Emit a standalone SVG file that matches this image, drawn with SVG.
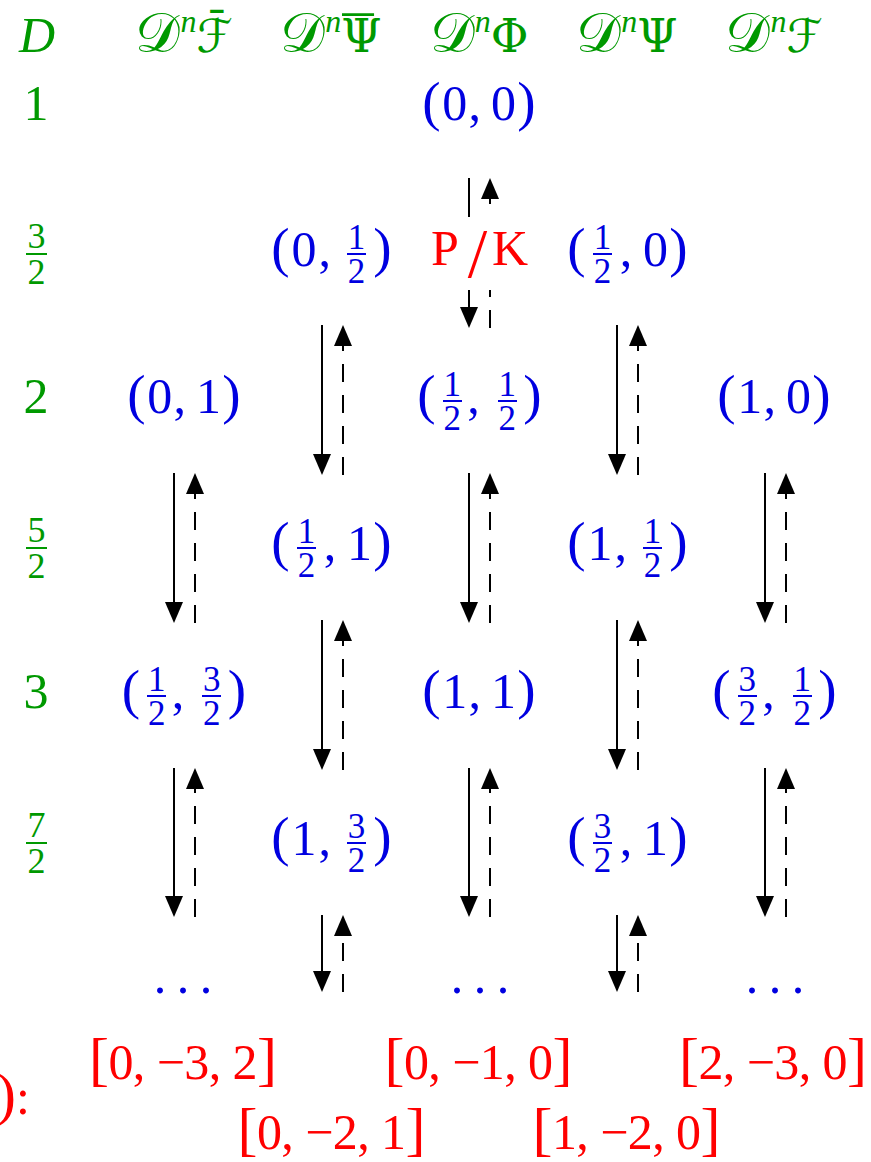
<svg xmlns="http://www.w3.org/2000/svg" width="871" height="1162" viewBox="0 0 871 1162">
<defs>
<marker id="ah" viewBox="0 -9 21 18" markerWidth="21" markerHeight="18" refX="0" refY="0" orient="auto" markerUnits="userSpaceOnUse"><path d="M0,-9 L21,0 L0,9 z" fill="#000"/></marker>
</defs>
<style>
text{font-family:"Liberation Serif","DejaVu Serif",serif;text-anchor:middle}
.g{fill:#009900}
.b{fill:#0000e0}
.r{fill:#ff0000}
.n{font-size:50px}
.p{font-size:55px}
.f{font-size:35px}
.fg{font-size:36px}
.it{font-style:italic}
.hd{font-family:"DejaVu Serif","DejaVu Sans","Noto Sans",serif;font-size:46px;fill:#009900}
.cal{font-size:56px}
.sup{font-family:"Liberation Serif",serif;font-style:italic;font-size:32px}
.fb{stroke:#0000e0;stroke-width:2}
.fbg{stroke:#009900;stroke-width:2}
.sol{stroke:#000;stroke-width:2;fill:none;marker-end:url(#ah)}
.das{stroke:#000;stroke-width:2;fill:none;stroke-dasharray:18 13;marker-end:url(#ah)}
.dots{font-size:50px;letter-spacing:10.5px;text-anchor:start;fill:#0000e0}
.lab{font-size:50px;fill:#ff0000}
.br{font-size:60px}
</style>
<rect width="871" height="1162" fill="#fff"/>

<!-- connectors -->
<g id="connectors">
<path class="sol" d="M469,178 V307"/><path class="das" d="M490,328 V199"/>
<path class="sol" d="M322,325 V454"/><path class="das" d="M343,475 V346"/>
<path class="sol" d="M617,325 V454"/><path class="das" d="M638,475 V346"/>
<path class="sol" d="M174,473 V602"/><path class="das" d="M195,623 V494"/>
<path class="sol" d="M469,473 V602"/><path class="das" d="M490,623 V494"/>
<path class="sol" d="M765,473 V602"/><path class="das" d="M786,623 V494"/>
<path class="sol" d="M322,620 V749"/><path class="das" d="M343,770 V641"/>
<path class="sol" d="M617,620 V749"/><path class="das" d="M638,770 V641"/>
<path class="sol" d="M174,768 V896"/><path class="das" d="M195,917 V789"/>
<path class="sol" d="M469,768 V896"/><path class="das" d="M490,917 V789"/>
<path class="sol" d="M765,768 V896"/><path class="das" d="M786,917 V789"/>
<path class="sol" d="M322,915 V971"/><path class="das" d="M343,992 V936"/>
<path class="sol" d="M617,915 V971"/><path class="das" d="M638,992 V936"/>
</g>

<!-- header -->
<g id="h-D"><text x="37" y="52" class="n it g">D</text></g>
<g id="h-Fbar"><text x="184" y="52" class="hd"><tspan class="cal">𝒟</tspan><tspan class="sup" dy="-20">n</tspan><tspan dy="20">ℱ̄</tspan></text></g>
<g id="h-Psibar"><text x="331" y="52" class="hd"><tspan class="cal">𝒟</tspan><tspan class="sup" dy="-20">n</tspan><tspan dy="20">Ψ</tspan></text><text x="358" y="60" class="g" font-size="62">¯</text></g>
<g id="h-Phi"><text x="479" y="52" class="hd"><tspan class="cal">𝒟</tspan><tspan class="sup" dy="-20">n</tspan><tspan dy="20">Φ</tspan></text></g>
<g id="h-Psi"><text x="627" y="52" class="hd"><tspan class="cal">𝒟</tspan><tspan class="sup" dy="-20">n</tspan><tspan dy="20">Ψ</tspan></text></g>
<g id="h-F"><text x="774" y="52" class="hd"><tspan class="cal">𝒟</tspan><tspan class="sup" dy="-20">n</tspan><tspan dy="20">ℱ</tspan></text></g>

<!-- D column -->
<g id="d-1"><text x="36" y="120" class="n g">1</text></g>
<g id="d-3h"><text x="36.5" y="248" class="fg g">3</text><line x1="26" y1="254" x2="47" y2="254" class="fbg"/><text x="36.5" y="284" class="fg g">2</text></g>
<g id="d-2"><text x="36" y="413" class="n g">2</text></g>
<g id="d-5h"><text x="36.5" y="542" class="fg g">5</text><line x1="26" y1="548" x2="47" y2="548" class="fbg"/><text x="36.5" y="578" class="fg g">2</text></g>
<g id="d-3"><text x="36" y="708" class="n g">3</text></g>
<g id="d-7h"><text x="36.5" y="837" class="fg g">7</text><line x1="26" y1="843" x2="47" y2="843" class="fbg"/><text x="36.5" y="873" class="fg g">2</text></g>

<!-- row 1 -->
<g id="n-00"><text x="431.5" y="120" class="p b">(</text><text x="454.7" y="120" class="n b">0</text><text x="474.8" y="120" class="n b">,</text><text x="503.5" y="120" class="n b">0</text><text x="526.5" y="120" class="p b">)</text></g>

<!-- row 3/2 -->
<g id="n-0h"><text x="280.5" y="266" class="p b">(</text><text x="304.1" y="266" class="n b">0</text><text x="324.8" y="266" class="n b">,</text><text x="356.6" y="249" class="f b">1</text><line x1="347" y1="254" x2="366" y2="254" class="fb"/><text x="356.6" y="283" class="f b">2</text><text x="382.5" y="266" class="p b">)</text></g>
<g id="n-PK"><rect x="459" y="217" width="40" height="73" fill="#fff"/><text x="445" y="265" class="lab">P</text><text x="477.5" y="277" class="r" font-size="70">/</text><text x="510" y="265" class="lab">K</text></g>
<g id="n-h0"><text x="576.5" y="266" class="p b">(</text><text x="602.5" y="249" class="f b">1</text><line x1="593" y1="254" x2="612" y2="254" class="fb"/><text x="602.5" y="283" class="f b">2</text><text x="626" y="266" class="n b">,</text><text x="655.5" y="266" class="n b">0</text><text x="678.5" y="266" class="p b">)</text></g>

<!-- row 2 -->
<g id="n-01"><text x="136.5" y="413" class="p b">(</text><text x="159.7" y="413" class="n b">0</text><text x="179.8" y="413" class="n b">,</text><text x="208.5" y="413" class="n b">1</text><text x="231.5" y="413" class="p b">)</text></g>
<g id="n-hh"><text x="426.5" y="413" class="p b">(</text><text x="452.3" y="396" class="f b">1</text><line x1="443" y1="401" x2="462" y2="401" class="fb"/><text x="452.3" y="430" class="f b">2</text><text x="473.5" y="413" class="n b">,</text><text x="507.3" y="396" class="f b">1</text><line x1="498" y1="401" x2="517" y2="401" class="fb"/><text x="507.3" y="430" class="f b">2</text><text x="532.5" y="413" class="p b">)</text></g>
<g id="n-10"><text x="726.5" y="413" class="p b">(</text><text x="749.7" y="413" class="n b">1</text><text x="769.8" y="413" class="n b">,</text><text x="798.5" y="413" class="n b">0</text><text x="821.5" y="413" class="p b">)</text></g>

<!-- row 5/2 -->
<g id="n-h1"><text x="280.5" y="560" class="p b">(</text><text x="306.5" y="543" class="f b">1</text><line x1="297" y1="548" x2="316" y2="548" class="fb"/><text x="306.5" y="577" class="f b">2</text><text x="330" y="560" class="n b">,</text><text x="359.5" y="560" class="n b">1</text><text x="382.5" y="560" class="p b">)</text></g>
<g id="n-1h"><text x="576.5" y="560" class="p b">(</text><text x="600.1" y="560" class="n b">1</text><text x="620.8" y="560" class="n b">,</text><text x="652.6" y="543" class="f b">1</text><line x1="643" y1="548" x2="662" y2="548" class="fb"/><text x="652.6" y="577" class="f b">2</text><text x="678.5" y="560" class="p b">)</text></g>

<!-- row 3 -->
<g id="n-h32"><text x="131" y="708" class="p b">(</text><text x="156.8" y="691" class="f b">1</text><line x1="147" y1="696" x2="166" y2="696" class="fb"/><text x="156.8" y="725" class="f b">2</text><text x="178" y="708" class="n b">,</text><text x="211.8" y="691" class="f b">3</text><line x1="202" y1="696" x2="221" y2="696" class="fb"/><text x="211.8" y="725" class="f b">2</text><text x="237" y="708" class="p b">)</text></g>
<g id="n-11"><text x="431.5" y="708" class="p b">(</text><text x="454.7" y="708" class="n b">1</text><text x="474.8" y="708" class="n b">,</text><text x="503.5" y="708" class="n b">1</text><text x="526.5" y="708" class="p b">)</text></g>
<g id="n-32h"><text x="721.5" y="708" class="p b">(</text><text x="747.3" y="691" class="f b">3</text><line x1="738" y1="696" x2="757" y2="696" class="fb"/><text x="747.3" y="725" class="f b">2</text><text x="768.5" y="708" class="n b">,</text><text x="802.3" y="691" class="f b">1</text><line x1="793" y1="696" x2="812" y2="696" class="fb"/><text x="802.3" y="725" class="f b">2</text><text x="827.5" y="708" class="p b">)</text></g>

<!-- row 7/2 -->
<g id="n-132"><text x="280.5" y="855" class="p b">(</text><text x="304.1" y="855" class="n b">1</text><text x="324.8" y="855" class="n b">,</text><text x="356.6" y="838" class="f b">3</text><line x1="347" y1="843" x2="366" y2="843" class="fb"/><text x="356.6" y="872" class="f b">2</text><text x="382.5" y="855" class="p b">)</text></g>
<g id="n-321"><text x="576.5" y="855" class="p b">(</text><text x="602.5" y="838" class="f b">3</text><line x1="593" y1="843" x2="612" y2="843" class="fb"/><text x="602.5" y="872" class="f b">2</text><text x="626" y="855" class="n b">,</text><text x="655.5" y="855" class="n b">1</text><text x="678.5" y="855" class="p b">)</text></g>

<!-- dots -->
<g id="dots-Fbar"><text x="153.75" y="993" class="dots">...</text></g>
<g id="dots-Phi"><text x="450.75" y="993" class="dots">...</text></g>
<g id="dots-F"><text x="745.75" y="993" class="dots">...</text></g>

<!-- bottom labels -->
<g id="lab-colon"><text x="30" y="1114" class="lab" style="text-anchor:end"><tspan class="br" font-size="56">)</tspan>:</text></g>
<g id="lab-032"><text x="183" y="1079" class="lab" textLength="188" lengthAdjust="spacing"><tspan class="br">[</tspan>0, −3, 2<tspan class="br">]</tspan></text></g>
<g id="lab-010"><text x="478.5" y="1079" class="lab" textLength="188" lengthAdjust="spacing"><tspan class="br">[</tspan>0, −1, 0<tspan class="br">]</tspan></text></g>
<g id="lab-230"><text x="773" y="1079" class="lab" textLength="188" lengthAdjust="spacing"><tspan class="br">[</tspan>2, −3, 0<tspan class="br">]</tspan></text></g>
<g id="lab-021"><text x="331.5" y="1149" class="lab" textLength="188" lengthAdjust="spacing"><tspan class="br">[</tspan>0, −2, 1<tspan class="br">]</tspan></text></g>
<g id="lab-120"><text x="626.5" y="1149" class="lab" textLength="188" lengthAdjust="spacing"><tspan class="br">[</tspan>1, −2, 0<tspan class="br">]</tspan></text></g>
</svg>
